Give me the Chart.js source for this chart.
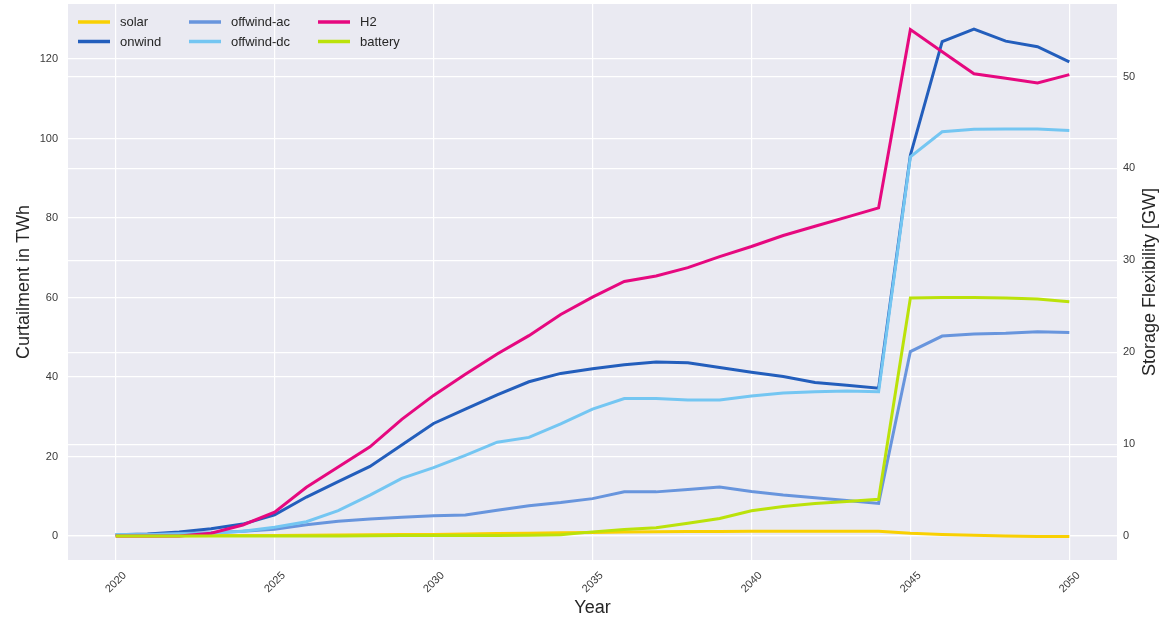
<!DOCTYPE html>
<html>
<head>
<meta charset="utf-8">
<script src="https://cdn.jsdelivr.net/npm/chart.js@4/dist/chart.umd.min.js"></script>
<style>
    html, body { margin: 0; padding: 0; background: #fff; }
    #wrap { width: 1159px; height: 619px; }
</style>
</head>
<body>
<div id="wrap"><canvas id="curtailmentChart" width="1159" height="619"></canvas></div>
<script>
// Años y series (curtailment en TWh a la izquierda, almacenamiento en GW a la derecha)
const years = [2020, 2021, 2022, 2023, 2024, 2025, 2026, 2027, 2028, 2029, 2030,
    2031, 2032, 2033, 2034, 2035, 2036, 2037, 2038, 2039, 2040,
    2041, 2042, 2043, 2044, 2045, 2046, 2047, 2048, 2049, 2050];

const solar = [0.0, 0.0, 0.05, 0.1, 0.1, 0.15, 0.2, 0.25, 0.3, 0.35, 0.4,
    0.5, 0.6, 0.7, 0.8, 0.9, 1.0, 1.05, 1.1, 1.15, 1.2,
    1.2, 1.2, 1.2, 1.2, 0.7, 0.4, 0.2, 0.0, -0.1, -0.1];
const onwind = [0.3, 0.5, 1.0, 1.8, 3.0, 5.3, 9.8, 13.7, 17.5, 22.9, 28.3,
    31.9, 35.5, 38.8, 40.9, 42.1, 43.1, 43.8, 43.6, 42.4, 41.2,
    40.1, 38.6, 37.9, 37.2, 95.8, 124.4, 127.5, 124.5, 123.1, 119.3];
const offwindAc = [0.4, 0.4, 0.6, 0.8, 1.2, 1.7, 2.8, 3.7, 4.3, 4.7, 5.1,
    5.3, 6.5, 7.6, 8.4, 9.4, 11.1, 11.1, 11.7, 12.3, 11.2,
    10.3, 9.6, 8.9, 8.2, 46.4, 50.3, 50.8, 51.0, 51.4, 51.2];
const offwindDc = [0.4, 0.3, 0.5, 0.7, 1.2, 2.2, 3.6, 6.4, 10.3, 14.5, 17.2,
    20.3, 23.6, 24.8, 28.2, 31.9, 34.6, 34.6, 34.2, 34.2, 35.2,
    36.0, 36.3, 36.5, 36.3, 95.4, 101.7, 102.3, 102.4, 102.4, 102.0];
const h2 = [0, 0, 0, 0.3, 1.2, 2.6, 5.3, 7.5, 9.7, 12.7, 15.3,
    17.6, 19.8, 21.8, 24.1, 26.0, 27.7, 28.3, 29.2, 30.4, 31.5,
    32.7, 33.7, 34.7, 35.7, 55.1, 52.7, 50.3, 49.8, 49.3, 50.2];
const battery = [0, 0, 0, 0, 0, 0, 0, 0, 0.02, 0.05, 0.05,
    0.05, 0.05, 0.08, 0.15, 0.45, 0.7, 0.9, 1.4, 1.9, 2.75,
    3.2, 3.55, 3.75, 4.0, 25.9, 25.95, 25.95, 25.9, 25.8, 25.5];

// Marcas de los ejes
const xTicks = [2020, 2025, 2030, 2035, 2040, 2045, 2050];
const leftTicks = [0, 20, 40, 60, 80, 100, 120];
const rightTicks = [0, 10, 20, 30, 40, 50];

const FONT = "'Liberation Sans', Arial, sans-serif";
const TEXT = '#262626';

function pts(vals) {
    return years.map((y, i) => ({ x: y, y: vals[i] }));
}

function line(label, vals, color, axis, order) {
    return {
        label, data: pts(vals), borderColor: color, backgroundColor: color,
        borderWidth: 3, pointRadius: 0, tension: 0, yAxisID: axis, order
    };
}

// quitar el relleno que Chart.js reserva para las etiquetas de los extremos
function noPad(s) {
    s.paddingTop = 0; s.paddingBottom = 0;
    s.paddingLeft = 0; s.paddingRight = 0;
}

// Fondo gris del área del gráfico (estilo seaborn)
const bgPlugin = {
    id: 'bg',
    beforeDraw(chart) {
        const { ctx, chartArea: a } = chart;
        ctx.save();
        ctx.fillStyle = '#eaeaf2';
        ctx.fillRect(a.left, a.top, a.right - a.left, a.bottom - a.top);
        ctx.restore();
    }
};

// Leyenda dentro del gráfico (3 columnas) y título del eje derecho
const legendPlugin = {
    id: 'innerLegend',
    afterDraw(chart) {
        const { ctx, chartArea: a } = chart;
        const colX = [10, 121, 250];
        const rowY = [18, 37.5];
        ctx.save();
        ctx.font = '13px ' + FONT;
        ctx.textBaseline = 'middle';
        chart.data.datasets.forEach((ds, i) => {
            const x = a.left + colX[Math.floor(i / 2)];
            const y = a.top + rowY[i % 2];
            ctx.strokeStyle = ds.borderColor;
            ctx.lineWidth = 3.5;
            ctx.beginPath();
            ctx.moveTo(x, y);
            ctx.lineTo(x + 32, y);
            ctx.stroke();
            ctx.fillStyle = TEXT;
            ctx.fillText(ds.label, x + 42, y + 0.5);
        });
        // título derecho, leído de abajo hacia arriba
        ctx.translate(1150, (a.top + a.bottom) / 2);
        ctx.rotate(-Math.PI / 2);
        ctx.font = '18px ' + FONT;
        ctx.textAlign = 'center';
        ctx.textBaseline = 'middle';
        ctx.fillText('Storage Flexibility [GW]', 0, 0);
        ctx.restore();
    }
};

const ctx = document.getElementById('curtailmentChart').getContext('2d');
new Chart(ctx, {
    type: 'line',
    data: {
        datasets: [
            line('solar', solar, '#f9d002', 'y', 6),
            line('onwind', onwind, '#235ebc', 'y', 5),
            line('offwind-ac', offwindAc, '#6895dd', 'y', 4),
            line('offwind-dc', offwindDc, '#74c6f2', 'y', 3),
            line('H2', h2, '#e6087f', 'y1', 2),
            line('battery', battery, '#bbe20a', 'y1', 1)
        ]
    },
    options: {
        responsive: false,
        animation: false,
        layout: { padding: { top: 4, left: 0, right: 0, bottom: 0 } },
        plugins: { legend: { display: false }, tooltip: { enabled: false } },
        scales: {
            x: {
                type: 'linear', min: 2018.5, max: 2051.5,
                afterBuildTicks: axis => { axis.ticks = xTicks.map(v => ({ value: v })); },
                afterFit: s => { s.height = 59; noPad(s); },
                grid: { color: '#ffffff', lineWidth: 1.2, drawTicks: false },
                border: { display: false },
                ticks: {
                    minRotation: 45, maxRotation: 45, padding: 9, labelOffset: 9,
                    color: '#3a3a3a', font: { family: FONT, size: 11 },
                    callback: v => String(v)
                },
                title: {
                    display: true, text: 'Year', color: TEXT,
                    font: { family: FONT, size: 18 }, padding: { top: 0, bottom: 0 }
                }
            },
            y: {
                position: 'left', min: -6.04, max: 133.84,
                afterBuildTicks: axis => { axis.ticks = leftTicks.map(v => ({ value: v })); },
                afterFit: s => { s.width = 68; noPad(s); },
                grid: { color: '#ffffff', lineWidth: 1.2, drawTicks: false },
                border: { display: false },
                ticks: { padding: 10, color: '#3a3a3a', font: { family: FONT, size: 11 } },
                title: {
                    display: true, text: 'Curtailment in TWh', color: TEXT,
                    font: { family: FONT, size: 18 }, padding: { top: 13, bottom: 0 }
                }
            },
            y1: {
                position: 'right', min: -2.61, max: 57.89,
                afterBuildTicks: axis => { axis.ticks = rightTicks.map(v => ({ value: v })); },
                afterFit: s => { s.width = 42; noPad(s); },
                grid: { color: '#ffffff', lineWidth: 1.2, drawTicks: false },
                border: { display: false },
                ticks: { padding: 6, color: '#3a3a3a', font: { family: FONT, size: 11 } }
            }
        }
    },
    plugins: [bgPlugin, legendPlugin]
});
</script>
</body>
</html>
